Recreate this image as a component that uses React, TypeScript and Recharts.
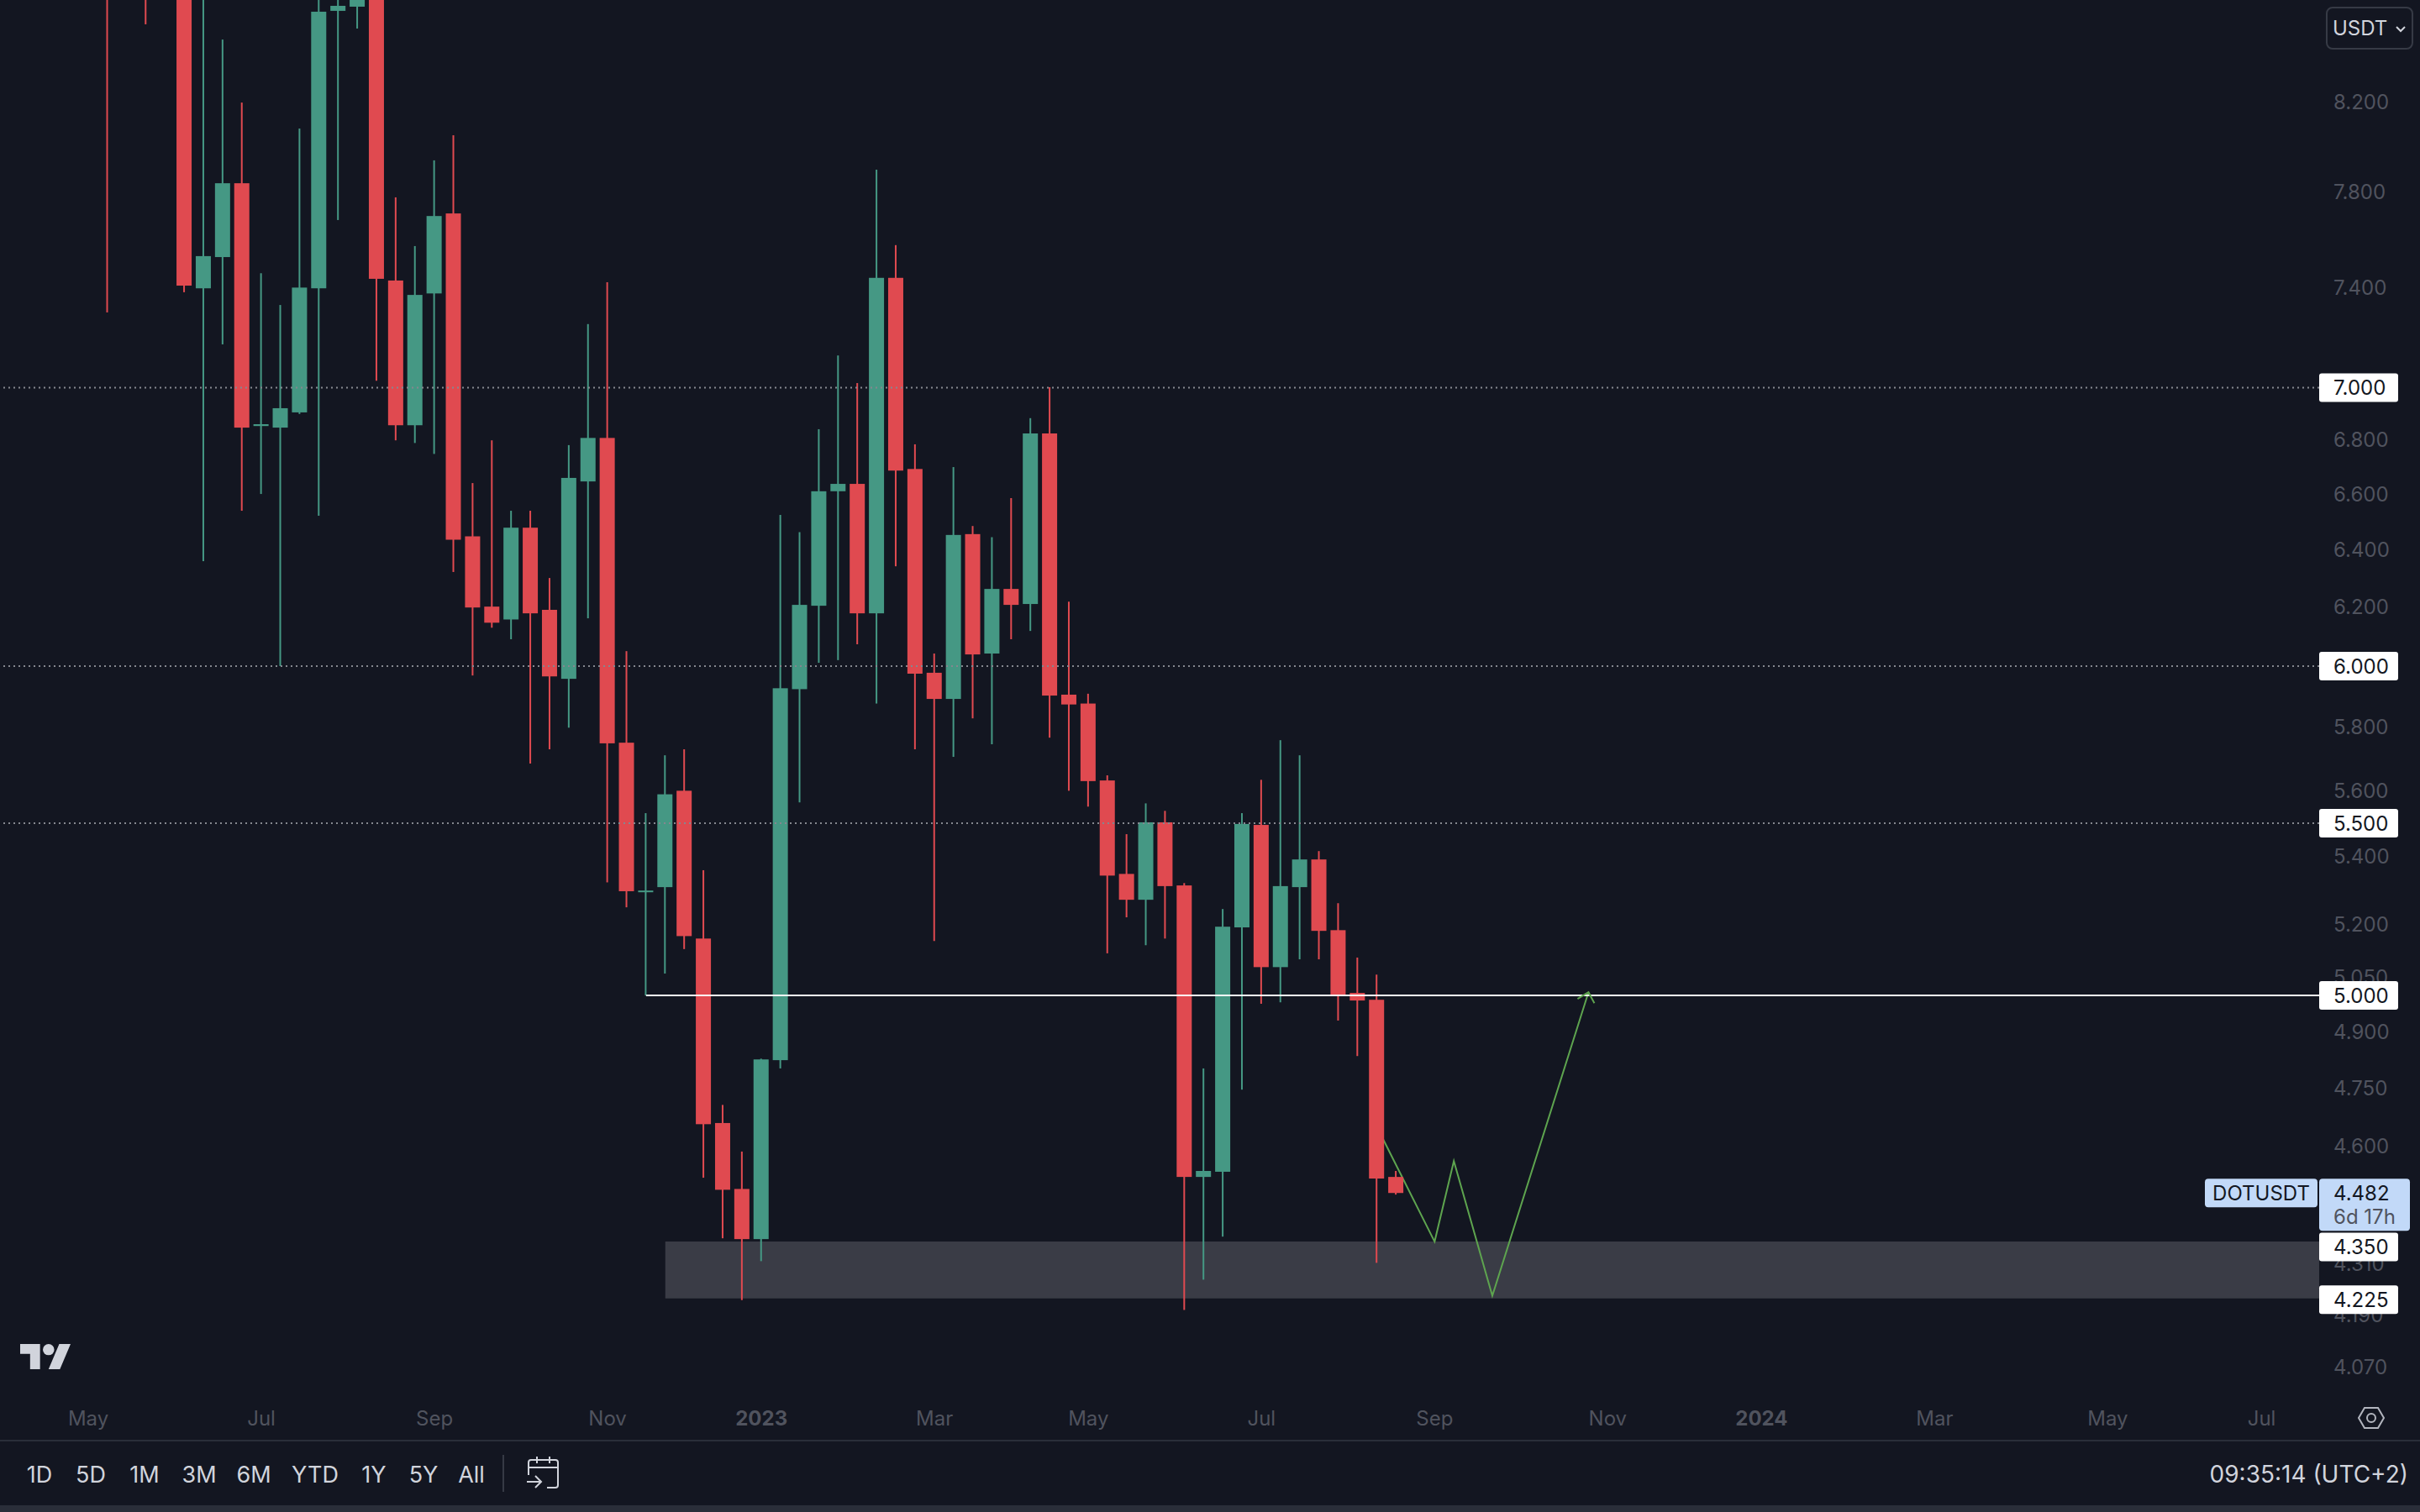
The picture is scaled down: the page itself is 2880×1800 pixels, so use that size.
import React from 'react';
import { ComposedChart, Bar, Line, XAxis, YAxis, ReferenceLine, ReferenceArea } from 'recharts';

const weeks = [-4,-2,0,1,2,3,4,5,6,7,8,9,10,11,12,13,14,15,16,17,18,19,20,21,22,23,24,25,26,27,28,29,30,31,32,33,34,35,36,37,38,39,40,41,42,43,44,45,46,47,48,49,50,51,52,53,54,55,56,57,58,59,60,61,62,63];
const opens = [9.9,10.0,9.6,7.396,7.525,7.839,6.853,6.847,6.905,7.396,8.624,8.644,9.2,7.428,6.856,7.375,7.709,6.447,6.201,6.157,6.478,6.190,5.958,6.646,6.808,5.751,5.294,5.309,5.600,5.160,4.659,4.492,4.369,4.824,5.924,6.204,6.610,6.637,6.178,7.439,6.692,5.978,5.892,6.455,6.042,6.262,6.210,6.825,5.906,5.877,5.632,5.348,5.272,5.503,5.314,4.522,4.535,5.192,5.495,5.079,5.309,5.391,5.184,5.007,4.988,4.522];
const highs = [10.4,10.2,9.8,8.95,8.488,8.197,7.458,7.328,8.080,8.78,8.9,9.1,9.4,7.778,7.571,7.939,8.050,6.640,6.799,6.539,6.539,6.300,6.781,7.251,7.421,6.050,5.531,5.711,5.730,5.359,4.706,4.586,4.828,6.524,6.462,6.841,7.126,7.018,7.898,7.575,6.784,6.042,6.699,6.484,6.444,6.585,6.883,7.002,6.218,5.909,5.648,5.467,5.561,5.538,5.321,4.802,5.245,5.531,5.634,5.759,5.711,5.416,5.262,5.106,5.058,4.537];
const lows = [7.298,8.560,7.380,6.359,7.170,6.539,6.600,6.000,6.899,6.521,7.681,8.54,7.027,6.799,6.789,6.748,6.321,5.969,6.129,6.090,5.685,5.730,5.799,6.161,5.323,5.250,5.000,5.061,5.130,4.520,4.371,4.224,4.316,4.802,5.564,6.011,6.020,6.073,5.877,6.341,5.730,5.153,5.706,5.829,5.746,6.090,6.118,5.767,5.600,5.551,5.118,5.221,5.141,5.160,4.201,4.272,4.375,4.746,4.977,4.981,5.101,5.101,4.931,4.835,4.312,4.478];
const closes = [9.3,9.4,7.407,7.529,7.839,6.847,6.860,6.921,7.399,8.620,8.648,8.9,7.435,6.856,7.369,7.698,6.435,6.198,6.146,6.478,6.178,5.966,6.659,6.808,5.749,5.297,5.299,5.589,5.167,4.656,4.490,4.369,4.826,5.927,6.207,6.610,6.637,6.178,7.439,6.686,5.975,5.892,6.452,6.039,6.262,6.207,6.825,5.903,5.874,5.630,5.343,5.272,5.503,5.312,4.522,4.537,5.194,5.498,5.079,5.312,5.391,5.182,5.002,4.986,4.518,4.482];

const pathWeeks = [62, 65, 66, 68, 73];
const pathPrices = [4.649, 4.363, 4.562, 4.234, 5.009];

const plainPriceTicks = [8.2, 7.8, 7.4, 6.8, 6.6, 6.4, 6.2, 5.8, 5.6, 5.4, 5.2, 5.05, 4.9, 4.75, 4.6, 4.31, 4.19, 4.07];
const dottedLevels = [7, 6, 5.5];
const solidLevel = 5;
const zoneTop = 4.363;
const zoneBottom = 4.228;
const lastPrice = 4.482;
const taggedPriceTicks = [7, 6, 5.5, 5, 4.35, 4.225];
const timeTickWeeks = [-5, 4, 13, 22, 30, 39, 47, 56, 65, 74, 82, 91, 100, 108];
const timeTickLabels = ['May', 'Jul', 'Sep', 'Nov', '2023', 'Mar', 'May', 'Jul', 'Sep', 'Nov', '2024', 'Mar', 'May', 'Jul'];
const rangeButtons = ['1D', '5D', '1M', '3M', '6M', 'YTD', '1Y', '5Y', 'All'];
const rangeCenters = [47, 108, 172, 237, 302, 375, 445, 504, 561];

const BG = '#131621';
const RED = '#e04a50';
const GREEN = '#459884';
const AXIS_TEXT = '#50535e';
const FONT = 'Inter, "Noto Sans", sans-serif';
const PLOT_RIGHT = 2760;

const rows = weeks.map((week, i) => ({
  week,
  open: opens[i],
  close: closes[i],
  wick: [lows[i], highs[i]],
  body: [Math.min(opens[i], closes[i]), Math.max(opens[i], closes[i])],
}));
const pathRows = pathWeeks.map((week, i) => ({ week, path: pathPrices[i] }));

const candleShape = (props: any) => {
  const { x, y, width, height, payload } = props;
  if (height == null) return <g />;
  return <rect x={x} y={y} width={width} height={height} fill={payload.close >= payload.open ? GREEN : RED} />;
};

const PriceTick = (props: any) => {
  const { y, payload } = props;
  const v = payload.value;
  const text = v.toFixed(3);
  if (v === lastPrice) {
    return (
      <g fontFamily={FONT} fontSize={24}>
        <rect x={2624} y={y - 17} width={134} height={34} rx={4} fill="#c2d9f8" />
        <text x={2691} y={y} textAnchor="middle" dominantBaseline="central" fill="#131722">DOTUSDT</text>
        <rect x={PLOT_RIGHT} y={y - 17} width={108} height={62} rx={4} fill="#c2d9f8" />
        <text x={2777} y={y} dominantBaseline="central" fill="#131722">{text}</text>
        <text x={2777} y={y + 28} dominantBaseline="central" fill="#50535e">6d 17h</text>
      </g>
    );
  }
  if (taggedPriceTicks.includes(v)) {
    return (
      <g fontFamily={FONT} fontSize={24}>
        <rect x={PLOT_RIGHT} y={y - 17} width={94} height={34} rx={3} fill="#ffffff" />
        <text x={2777} y={y} dominantBaseline="central" fill="#131722">{text}</text>
      </g>
    );
  }
  return (
    <text x={2777} y={y} dominantBaseline="central" fontFamily={FONT} fontSize={24} fill={AXIS_TEXT}>{text}</text>
  );
};

const TimeTick = (props: any) => {
  const { x, payload } = props;
  const idx = timeTickWeeks.indexOf(payload.value);
  const label = timeTickLabels[idx];
  const isYear = /^\d+$/.test(label);
  return (
    <text x={x} y={1688} textAnchor="middle" dominantBaseline="central" fontFamily={FONT} fontSize={24} fontWeight={isYear ? 700 : 400} fill={AXIS_TEXT}>
      {label}
    </text>
  );
};

const arrowDot = (props: any) => {
  const { cx, cy, index } = props;
  if (index !== pathPrices.length - 1) return <g key={index} />;
  return (
    <polyline key={index} points={`${cx - 13},${cy + 8} ${cx},${cy} ${cx + 7},${cy + 13}`} fill="none" stroke="#5ea44f" strokeWidth={2} />
  );
};

const abs = (left: number, top: number, extra: any = {}): any => ({ position: 'absolute', left, top, ...extra });

const X_DOMAIN = [-9.59, 110.99];

export default function App() {
  return (
    <div style={abs(0, 0, { width: 2880, height: 1800, background: BG, overflow: 'hidden', fontFamily: FONT })}>
      <ComposedChart
        width={2880}
        height={1800}
        data={rows}
        margin={{ top: 0, right: 0, bottom: 85, left: 0 }}
        barGap={0}
      >
        <XAxis
          xAxisId="body"
          dataKey="week"
          type="number"
          domain={X_DOMAIN}
          allowDataOverflow
          ticks={timeTickWeeks}
          interval={0}
          tick={TimeTick}
          axisLine={false}
          tickLine={false}
          height={60}
        />
        <XAxis xAxisId="wick" dataKey="week" type="number" domain={X_DOMAIN} allowDataOverflow hide />
        <YAxis
          yAxisId="price"
          orientation="right"
          scale="log"
          domain={[4.0184, 8.676]}
          allowDataOverflow
          width={120}
          ticks={[...plainPriceTicks, lastPrice, ...taggedPriceTicks]}
          interval={0}
          tick={PriceTick}
          axisLine={false}
          tickLine={false}
        />
        {dottedLevels.map((level) => (
          <ReferenceLine key={level} xAxisId="body" yAxisId="price" y={level} stroke="#85878f" strokeWidth={2} strokeDasharray="2 4" />
        ))}
        <ReferenceArea xAxisId="body" yAxisId="price" x1={25} x2={110.99} y1={zoneBottom} y2={zoneTop} fill="#3a3c46" fillOpacity={1} stroke="none" />
        <ReferenceLine
          xAxisId="body"
          yAxisId="price"
          segment={[{ x: 24, y: solidLevel }, { x: 110.99, y: solidLevel }]}
          stroke="#ffffff"
          strokeWidth={2}
        />
        <Line
          xAxisId="body"
          yAxisId="price"
          data={pathRows}
          dataKey="path"
          type="linear"
          stroke="#5ea44f"
          strokeWidth={2}
          dot={arrowDot}
          activeDot={false}
          legendType="none"
          isAnimationActive={false}
          zIndex={250}
        />
        <Bar xAxisId="wick" yAxisId="price" dataKey="wick" barSize={2} shape={candleShape} isAnimationActive={false} />
        <Bar xAxisId="body" yAxisId="price" dataKey="body" barSize={18} shape={candleShape} isAnimationActive={false} />
      </ComposedChart>

      <div style={abs(2768, 8, { width: 104, height: 51, boxSizing: 'border-box', border: '2px solid #363a45', borderRadius: 8 })} />
      <div style={abs(2776, 33, { transform: 'translateY(-50%)', fontSize: 24, color: '#d1d4dc' })}>USDT</div>
      <svg style={abs(2850, 30)} width={14} height={10}><polyline points="2,2 7,7 12,2" fill="none" stroke="#d1d4dc" strokeWidth={2} /></svg>

      <svg style={abs(24, 1600)} width={60} height={30} viewBox="0 4 35.5 18" preserveAspectRatio="none">
        <path d="M14 22H7V11H0V4h14v18zM28 22h-8l7.5-18h8L28 22z" fill="#d1d4dc" />
        <circle cx="20" cy="8" r="4" fill="#d1d4dc" />
      </svg>

      <svg style={abs(2804, 1672)} width={36} height={32} fill="none" stroke="#b2b5be" strokeWidth={2}>
        <polygon points="3,16 10,4 26,4 33,16 26,28 10,28" />
        <circle cx="18" cy="16" r="5" />
      </svg>

      <div style={abs(0, 1714, { width: 2880, height: 2, background: '#2a2e39' })} />
      <div style={abs(0, 1792, { width: 2880, height: 8, background: '#2a2e39' })} />

      {rangeButtons.map((label, i) => (
        <div key={label} style={abs(rangeCenters[i], 1755, { transform: 'translate(-50%,-50%)', fontSize: 27, color: '#d1d4dc' })}>{label}</div>
      ))}
      <div style={abs(598, 1732, { width: 2, height: 44, background: '#363a45' })} />
      <svg style={abs(625, 1732)} width={42} height={42} fill="none" stroke="#d1d4dc" strokeWidth={2}>
        <path d="M4 24V9a3 3 0 0 1 3-3h29a3 3 0 0 1 3 3v27a3 3 0 0 1-3 3H26" />
        <path d="M4 15H39M14 2v8M29 2v8" />
        <path d="M2 32H18M12 25l7 7-7 7" />
      </svg>

      <div style={abs(2866, 1755, { transform: 'translate(-100%,-50%)', fontSize: 28, color: '#d1d4dc', whiteSpace: 'nowrap' })}>09:35:14 (UTC+2)</div>
    </div>
  );
}
